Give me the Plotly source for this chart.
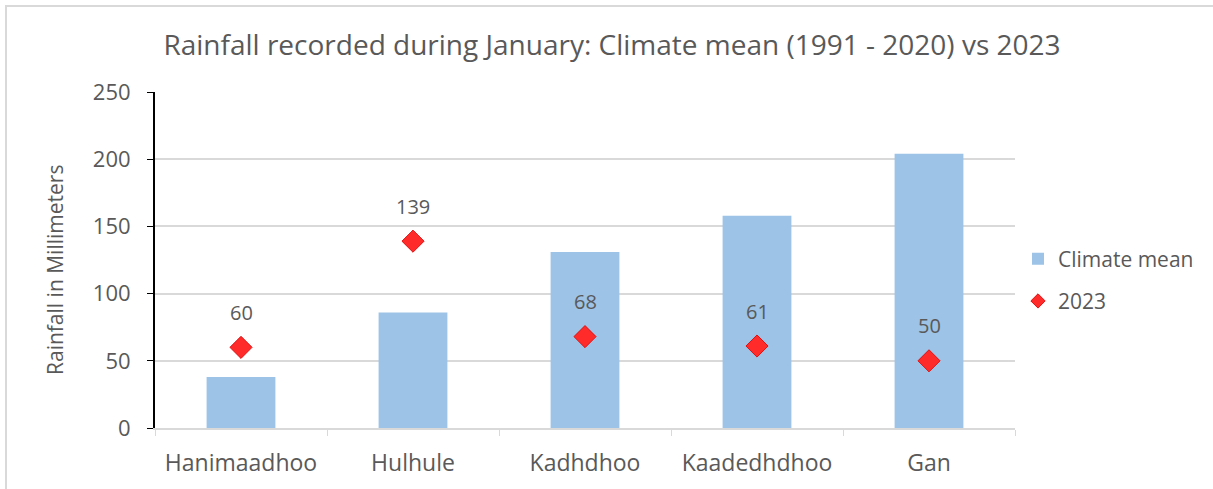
import plotly.graph_objects as go

stations = ["Hanimaadhoo", "Hulhule", "Kadhdhoo", "Kaadedhdhoo", "Gan"]
climate_mean = [38, 86, 131, 158, 204]
rain_2023 = [60, 139, 68, 61, 50]
y_ticks = [0, 50, 100, 150, 200, 250]

FONT = "Open Sans"
GREY = "#595959"
RED = "#FF2B2B"

L, R, T, B = 155, 1015, 92, 428
W, H = 1213, 489
PW, PH = R - L, B - T

fig = go.Figure()
fig.add_trace(go.Bar(
    x=stations, y=climate_mean, name="Climate mean", legendgroup="a",
    marker=dict(color="#9DC3E6", line=dict(width=0)), width=0.4,
))
fig.add_trace(go.Scatter(
    x=stations, y=rain_2023, name="2023", mode="markers", showlegend=False,
    marker=dict(symbol="diamond", size=17, color=RED,
                line=dict(color="#E01010", width=1)),
))
# legend entry with a smaller diamond, as in the reference legend
fig.add_trace(go.Scatter(
    x=[None], y=[None], name="2023", mode="markers", legendgroup="b",
    marker=dict(symbol="diamond", size=11, color=RED,
                line=dict(color="#E01010", width=1)),
))
for s, v in zip(stations, rain_2023):
    fig.add_annotation(x=s, y=v, text=str(v), showarrow=False, yshift=35,
                       font=dict(family=FONT, size=20, color=GREY))

fig.add_annotation(text="Rainfall in Millimeters", textangle=-90, showarrow=False,
                   xref="paper", yref="paper", x=(55 - L) / PW, y=(B - 270) / PH,
                   xanchor="center", yanchor="middle",
                   font=dict(family=FONT, size=21, color=GREY))

fig.add_shape(type="rect", xref="paper", yref="paper",
              x0=(6 - L) / PW, x1=(1240 - L) / PW,
              y0=(B - 520) / PH, y1=(B - 6) / PH,
              line=dict(color="#D9D9D9", width=2), fillcolor="rgba(0,0,0,0)",
              layer="below")

fig.update_layout(
    width=W, height=H,
    margin=dict(l=L, r=W - R, t=T, b=H - B, autoexpand=False),
    paper_bgcolor="white", plot_bgcolor="white",
    title=dict(text="Rainfall recorded during January: Climate mean (1991 - 2020) vs 2023",
               x=612 / W, xanchor="center", y=1 - 45 / H, yanchor="middle",
               font=dict(family=FONT, size=28, color=GREY)),
    legend=dict(x=(1018 - L) / PW, y=(B - 280) / PH, xanchor="left", yanchor="middle",
                font=dict(family=FONT, size=21, color=GREY),
                tracegroupgap=12, bgcolor="rgba(0,0,0,0)"),
    showlegend=True,
    bargap=0.6,
)
fig.update_xaxes(
    showline=True, linecolor="#D9D9D9", linewidth=2,
    ticks="outside", tickson="boundaries", ticklen=6, tickcolor="#D9D9D9",
    tickfont=dict(family=FONT, size=23, color=GREY),
    ticklabelstandoff=13, showgrid=False,
)
fig.update_yaxes(
    range=[0, 250], tickvals=y_ticks, showline=True, linecolor="black", linewidth=2,
    ticks="outside", ticklen=6, tickcolor="black",
    showgrid=True, gridcolor="#D9D9D9", gridwidth=2, zeroline=False,
    tickfont=dict(family=FONT, size=22, color=GREY), ticklabelstandoff=12,
)
fig.write_html("out.html", config={"displayModeBar": False},
               post_script="document.body.style.margin='0';document.body.style.padding='0';")
